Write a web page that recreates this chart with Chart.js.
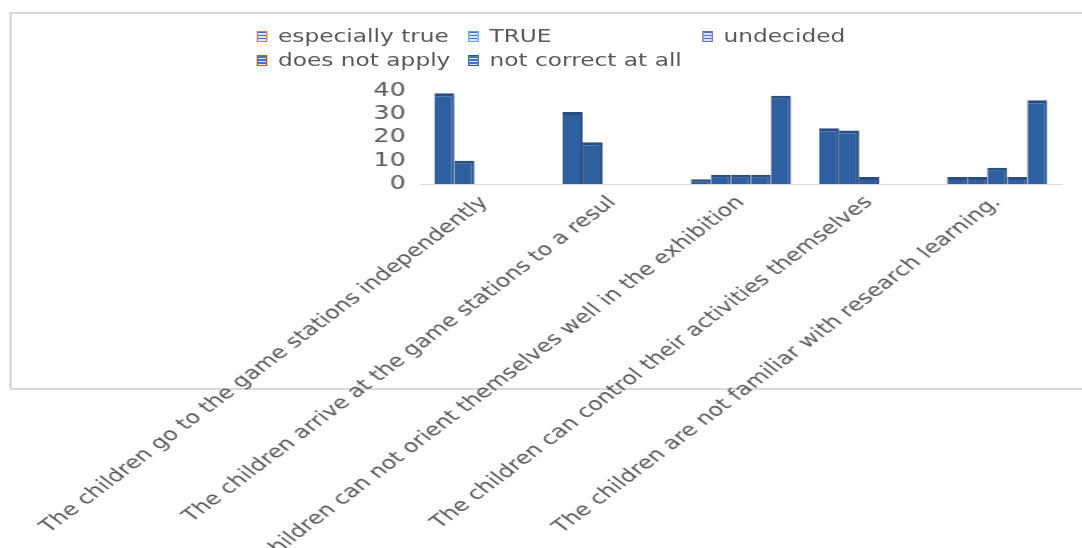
<!DOCTYPE html>
<html>
<head>
<meta charset="utf-8">
<script src="https://cdn.jsdelivr.net/npm/chart.js@4/dist/chart.umd.min.js"></script>
<style>
  html, body { margin: 0; padding: 0; background: #fff; overflow: hidden; }
  /* the original picture is stretched sideways, so the whole chart is too */
  #stage {
    position: absolute; left: 0; top: 0;
    width: 814px; height: 548px;
    transform: scaleX(1.33); transform-origin: 0 0;
    font-family: "DejaVu Sans", sans-serif;
  }
  #frame {
    position: absolute; left: 7px; top: 12px; width: 830px; height: 378px;
    border: 2px solid #d9d9d9; box-sizing: border-box;
  }
  #legend .item {
    position: absolute; display: flex; align-items: center;
    font-size: 17.5px; color: #595959; white-space: nowrap;
  }
  #legend .swatch {
    width: 8px; height: 11px; margin-right: 8px; box-sizing: border-box;
    border: 1.5px solid;
    background: repeating-linear-gradient(#4472c4 0 1.5px, #dce6f2 1.5px 3px);
  }
  #chartBox { position: absolute; left: 0; top: 0; width: 814px; height: 548px; }
</style>
</head>
<body>
<div id="stage">
  <div id="frame"></div>
  <div id="legend"></div>
  <div id="chartBox"><canvas id="surveyChart"></canvas></div>
</div>
<script>
const categories = [
  "The children go to the game stations independently",
  "The children arrive at the game stations to a resul",
  "The children can not orient themselves well in the exhibition",
  "The children can control their activities themselves",
  "The children are not familiar with research learning.",
];

const seriesNames = ["especially true", "TRUE", "undecided", "does not apply", "not correct at all"];

const especiallyTrue = [39, 31, 2, 24, 3];
const trueValues = [10, 18, 4, 23, 3];
const undecided = [0, 0, 4, 3, 7];
const doesNotApply = [0, 0, 4, 0, 3];
const notCorrectAtAll = [0, 0, 38, 0, 36];

const yTicks = [0, 10, 20, 30, 40];

const seriesValues = [especiallyTrue, trueValues, undecided, doesNotApply, notCorrectAtAll];
const legendBorders = ["#ED7D31", "#4BACC6", "#8064A2", "#C55A11", "#1F5F7A"];

// legend laid out like the original: two rows, fixed columns
const legendSpots = [
  { left: 193, top: 26 },
  { left: 352, top: 26 },
  { left: 528, top: 26 },
  { left: 193, top: 50 },
  { left: 352, top: 50 },
];
const legendEl = document.getElementById("legend");
seriesNames.forEach((name, i) => {
  legendEl.insertAdjacentHTML(
    "beforeend",
    `<div class="item" style="left:${legendSpots[i].left}px;top:${legendSpots[i].top}px">
       <span class="swatch" style="border-color:${legendBorders[i]}"></span>${name}
     </div>`
  );
});

const ctx = document.getElementById("surveyChart").getContext("2d");

new Chart(ctx, {
  type: "bar",
  data: {
    labels: categories,
    datasets: seriesNames.map((name, i) => ({
      label: name,
      data: seriesValues[i],
      backgroundColor: "#2E5FA0",
      borderColor: "#2A4C7E",
      borderWidth: { top: 3, right: 2, left: 0, bottom: 0 },
      categoryPercentage: 0.78,
      barPercentage: 1,
    })),
  },
  options: {
    responsive: true,
    maintainAspectRatio: false,
    animation: false,
    layout: { padding: { top: 91, right: 16, bottom: 0, left: 0 } },
    scales: {
      x: {
        border: { display: true, color: "#d9d9d9", width: 1 },
        grid: { display: false, drawTicks: false },
        ticks: {
          autoSkip: false,
          minRotation: 45,
          maxRotation: 45,
          padding: 8,
          color: "#595959",
          font: { family: "DejaVu Sans", size: 18 },
        },
        afterFit: (scale) => {
          scale.height = 364;
          scale.paddingLeft = 0;
          scale.paddingRight = 0;
        },
      },
      y: {
        min: 0,
        max: 40,
        border: { display: false },
        grid: { display: false, drawTicks: false },
        afterBuildTicks: (scale) => {
          scale.ticks = yTicks.map((v) => ({ value: v }));
        },
        ticks: {
          autoSkip: false,
          padding: 11,
          color: "#595959",
          font: { family: "DejaVu Sans", size: 19 },
        },
        afterFit: (scale) => {
          scale.width = 316;
        },
      },
    },
    plugins: {
      legend: { display: false },
      tooltip: { enabled: false },
    },
  },
});
</script>
</body>
</html>
